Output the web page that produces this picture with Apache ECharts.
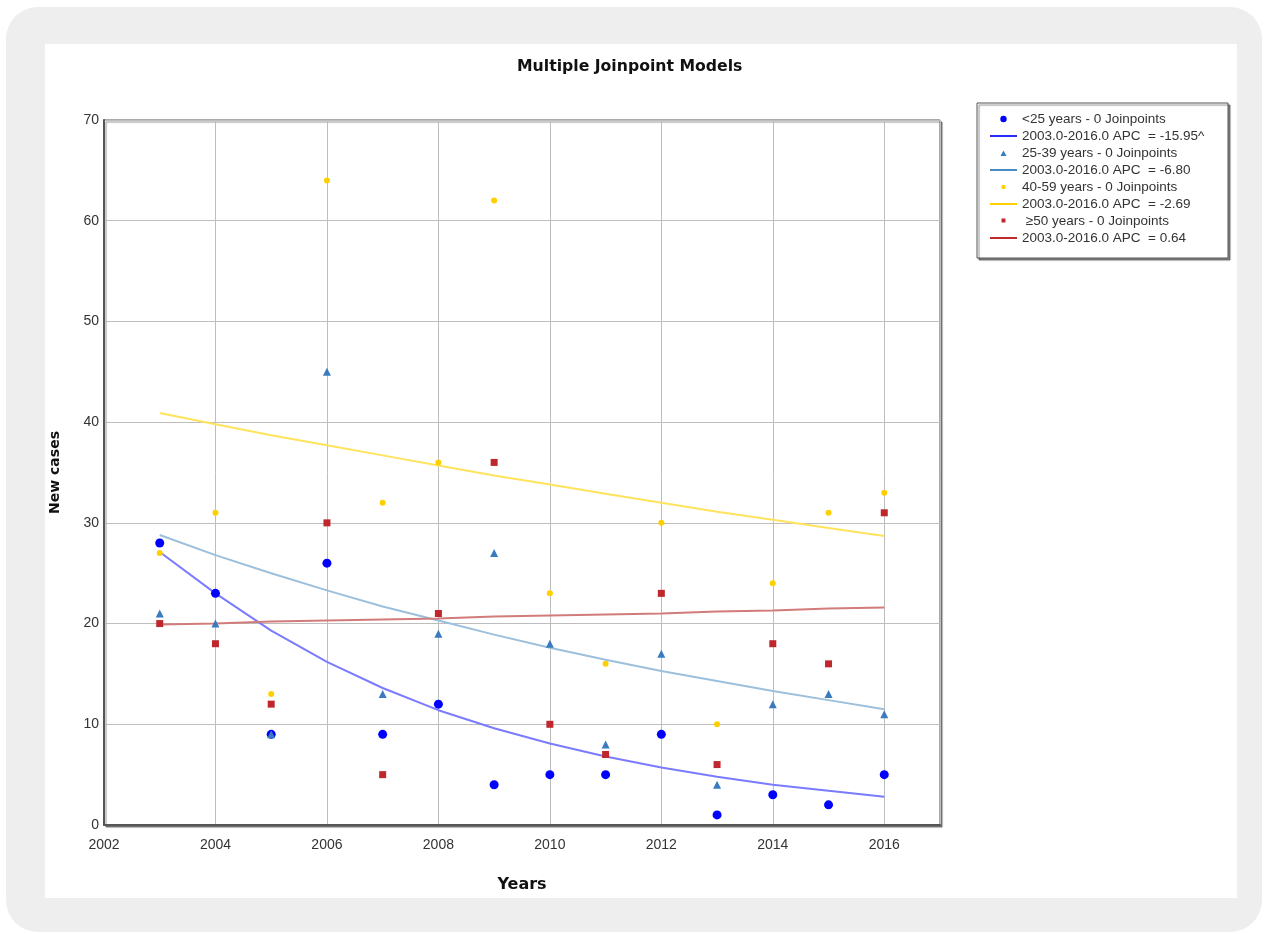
<!DOCTYPE html>
<html>
<head>
<meta charset="utf-8">
<script src="https://cdn.jsdelivr.net/npm/echarts@6/dist/echarts.min.js"></script>
<style>
html,body{margin:0;padding:0;background:#fff;}
#outer{position:absolute;left:6px;top:7px;width:1256px;height:925px;background:#eeeeee;border-radius:32px;}
#inner{position:absolute;left:45px;top:44px;width:1192px;height:854px;background:#fff;}
#chart{position:absolute;left:0;top:0;width:1266px;height:934px;}
</style>
</head>
<body>
<div id="outer"></div>
<div id="inner"></div>
<div id="chart"></div>
<script>
const years = [2003,2004,2005,2006,2007,2008,2009,2010,2011,2012,2013,2014,2015,2016];
const xTicks = [2002,2004,2006,2008,2010,2012,2014,2016];
const yTicks = [0,10,20,30,40,50,60,70];

const obsUnder25 = [28,23,9,26,9,12,4,5,5,9,1,3,2,5];
const obs25to39 = [21,20,9,45,13,19,27,18,8,17,4,12,13,11];
const obs40to59 = [27,31,13,64,32,36,62,23,16,30,10,24,31,33];
const obs60plus = [20,18,12,30,5,21,36,10,7,23,6,18,16,31];

const fitUnder25 = [27.1,23.0,19.3,16.2,13.6,11.4,9.6,8.1,6.8,5.7,4.8,4.0,3.4,2.8];
const fit25to39 = [28.8,26.8,25.0,23.3,21.7,20.3,18.9,17.6,16.4,15.3,14.3,13.3,12.4,11.5];
const fit40to59 = [40.9,39.8,38.7,37.7,36.7,35.7,34.7,33.8,32.9,32.0,31.1,30.3,29.5,28.7];
const fit60plus = [19.9,20.0,20.2,20.3,20.4,20.5,20.7,20.8,20.9,21.0,21.2,21.3,21.5,21.6];

const groupNames = ['<25 years - 0 Joinpoints','25-39 years - 0 Joinpoints','40-59 years - 0 Joinpoints',' \u226550 years - 0 Joinpoints'];
const fitNames = ['2003.0-2016.0 APC  = -15.95^','2003.0-2016.0 APC  = -6.80','2003.0-2016.0 APC  = -2.69','2003.0-2016.0 APC  = 0.64'];

const pts = arr => years.map((y,i)=>[y,arr[i]]);

const chart = echarts.init(document.getElementById('chart'), null, {renderer:'canvas'});
const font = 'Liberation Sans, Arial, sans-serif';
const boldFont = 'DejaVu Sans, Verdana, sans-serif';

const markerCfg = [
  {sym:'circle', size:9, color:'#0000ff', icon:'path://M0,0 M27,10 M13.5,1.8 A3.2,3.2 0 1 1 13.49,1.8 Z'},
  {sym:'triangle', size:8, color:'#3a7bbf', icon:'path://M0,0 M27,10 M13.5,2.5 L16.5,8 L10.5,8 Z'},
  {sym:'circle', size:6, color:'#ffd000', icon:'path://M0,0 M27,10 M13.5,2.8 A2.2,2.2 0 1 1 13.49,2.8 Z'},
  {sym:'rect', size:7, color:'#c0272d', icon:'path://M0,0 M27,10 M11.5,2.5 H15.5 V6.5 H11.5 Z'}
];
const lineIcon = 'path://M0,0 M27,10 M0,4 H27 V6 H0 Z';
const lineCfg = [
  {color:'#7b7bff', legend:'#2a2aff'},
  {color:'#9cbfdc', legend:'#4a8cc2'},
  {color:'#ffe35c', legend:'#ffd000'},
  {color:'#d27b7b', legend:'#c02a2a'}
];
const obs = [obsUnder25, obs25to39, obs40to59, obs60plus];
const fits = [fitUnder25, fit25to39, fit40to59, fit60plus];

const series = [];
const legendData = [];
for (let g=0; g<4; g++){
  series.push({
    type:'line', name:fitNames[g], data:pts(fits[g]), symbol:'none', smooth:false,
    lineStyle:{color:lineCfg[g].color, width:2}, itemStyle:{color:lineCfg[g].color},
    z:2, silent:true
  });
}
for (let g=0; g<4; g++){
  series.push({
    type:'scatter', name:groupNames[g], data:pts(obs[g]), symbol:markerCfg[g].sym,
    symbolSize:markerCfg[g].size, itemStyle:{color:markerCfg[g].color, opacity:1}, z:3
  });
}
for (let g=0; g<4; g++){
  legendData.push({name:groupNames[g], icon:markerCfg[g].icon, itemStyle:{color:markerCfg[g].color, opacity:1}});
  legendData.push({name:fitNames[g], icon:lineIcon, itemStyle:{color:lineCfg[g].legend, borderWidth:0}, lineStyle:{width:0}});
}

chart.setOption({
  animation:false,
  backgroundColor:'transparent',
  title:{
    text:'Multiple Joinpoint Models', left:512, top:54,
    textStyle:{fontFamily:boldFont, fontWeight:'bold', fontSize:15.7, color:'#111'}
  },
  graphic:[
    {type:'rect', shape:{x:977,y:103,width:251,height:155}, z:0,
     style:{fill:'#fff', stroke:'#555', lineWidth:1, shadowColor:'rgba(0,0,0,0.45)', shadowOffsetX:2, shadowOffsetY:2, shadowBlur:1}}
  ],
  legend:{
    orient:'vertical', left:985, top:107, itemWidth:27, itemHeight:10, itemGap:3,
    symbolKeepAspect:true,
    data:legendData, selectedMode:false,
    textStyle:{fontFamily:font, fontSize:13.5, color:'#333'}
  },
  grid:{
    left:104, top:120, right:326, bottom:109, show:true, borderColor:'#555', borderWidth:1,
    backgroundColor:'#fff', shadowColor:'rgba(0,0,0,0.45)', shadowOffsetX:2, shadowOffsetY:2, shadowBlur:1
  },
  xAxis:{
    type:'value', min:2002, max:2017, interval:2,
    name:'Years', nameLocation:'middle', nameGap:52,
    nameTextStyle:{fontFamily:boldFont, fontWeight:'bold', fontSize:16, color:'#111'},
    axisLine:{show:true, onZero:false, lineStyle:{color:'#555', width:2}},
    axisTick:{show:false},
    axisLabel:{fontFamily:font, fontSize:14, color:'#333', margin:13,
      formatter:v=> xTicks.includes(v) ? String(v) : ''},
    splitLine:{show:true, lineStyle:{color:'#bdbdbd', width:1}}
  },
  yAxis:{
    type:'value', min:0, max:70, interval:10,
    name:'New cases', nameLocation:'middle', nameGap:42, nameRotate:90,
    nameTextStyle:{fontFamily:boldFont, fontWeight:'bold', fontSize:14, color:'#111'},
    axisLine:{show:true, onZero:false, lineStyle:{color:'#555', width:2}},
    axisTick:{show:false},
    axisLabel:{fontFamily:font, fontSize:14, color:'#333', margin:5,
      formatter:v=> yTicks.includes(v) ? String(v) : ''},
    splitLine:{show:true, lineStyle:{color:'#bdbdbd', width:1}}
  },
  series:series
});
</script>
</body>
</html>
